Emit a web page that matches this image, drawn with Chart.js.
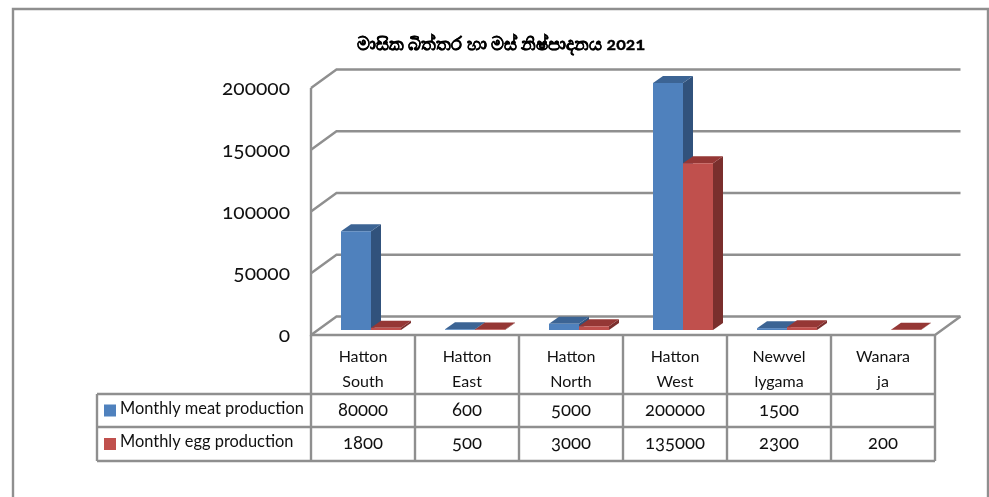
<!DOCTYPE html>
<html>
<head>
<meta charset="utf-8">
<title>Monthly production</title>
<script src="https://cdn.jsdelivr.net/npm/chart.js@4/dist/chart.umd.min.js"></script>
<style>
  html, body { margin: 0; padding: 0; background: #fff; overflow: hidden; }
  #wrap { position: relative; width: 989px; height: 497px; }
  #labels div {
    position: absolute;
    white-space: nowrap;
    font-family: Lato, sans-serif;
    font-size: 18.5px;
    color: #111;
    font-feature-settings: "onum" 1;
    font-variant-numeric: oldstyle-nums;
  }
  #labels .title { font-size: 17.8px; font-weight: 700; color: #000; -webkit-text-stroke: 0.4px #000; transform: translate(-50%, -50%); }
  #labels .cell { transform: translate(-50%, -50%); }
  #labels .tick { transform: translate(-100%, -50%); font-size: 21px; }
</style>
</head>
<body>
<div id="wrap">
  <canvas id="chart" width="989" height="497"></canvas>
  <div id="labels"></div>
</div>
<script>
const chartTitle = 'මාසික බිත්තර හා මස් නිෂ්පාදනය 2021';
const categories = [['Hatton', 'South'], ['Hatton', 'East'], ['Hatton', 'North'], ['Hatton', 'West'], ['Newvel', 'lygama'], ['Wanara', 'ja']];
const meatValues = [80000, 600, 5000, 200000, 1500, null];
const eggValues = [1800, 500, 3000, 135000, 2300, 200];
const seriesNames = ['Monthly meat production', 'Monthly egg production'];
const frontColors = ['#4f81bd', '#c0504d'];
const topColors = ['#3c6494', '#953735'];
const sideColors = ['#31527c', '#7a2f2d'];

const lineColor = '#8f8f8f';
const depthX = 10, depthY = 7;      // bar depth
const shiftX = 8, shiftY = 5;       // bars sit a little behind the front of the floor
const wallX = 25.5, wallY = 18.5;   // depth of the walls

function segs(ctx, pts) {
    ctx.beginPath();
    pts.forEach((p, i) => i ? ctx.lineTo(p[0], p[1]) : ctx.moveTo(p[0], p[1]));
    ctx.stroke();
}

function poly(ctx, pts, color) {
    ctx.fillStyle = color;
    ctx.beginPath();
    pts.forEach((p, i) => i ? ctx.lineTo(p[0], p[1]) : ctx.moveTo(p[0], p[1]));
    ctx.closePath();
    ctx.fill();
}

// back wall, side wall, floor and the sides/tops of the bars
const walls3d = {
    id: 'walls3d',
    beforeDatasetsDraw(chart) {
        const ctx = chart.ctx, x = chart.scales.x, y = chart.scales.y;
        const left = x.left - shiftX, right = x.right - shiftX;
        ctx.save();
        ctx.strokeStyle = lineColor;
        ctx.lineWidth = 2.4;
        y.ticks.forEach(t => {
            const f = y.getPixelForValue(t.value) + shiftY;
            segs(ctx, [[left, f], [left + wallX, f - wallY], [right + wallX, f - wallY]]);
        });
        const top = y.getPixelForValue(200000) + shiftY, bottom = y.getPixelForValue(0) + shiftY;
        segs(ctx, [[left, top], [left, bottom], [right, bottom], [right + wallX, bottom - wallY]]);

        chart.data.datasets.forEach((ds, d) => {
            chart.getDatasetMeta(d).data.forEach((bar, i) => {
                if (ds.data[i] === null) return;
                const l = bar.x - bar.width / 2, r = bar.x + bar.width / 2;
                poly(ctx, [[r, bar.y], [r + depthX, bar.y - depthY], [r + depthX, bar.base - depthY], [r, bar.base]], sideColors[d]);
                poly(ctx, [[l, bar.y], [l + depthX, bar.y - depthY], [r + depthX, bar.y - depthY], [r, bar.y]], topColors[d]);
            });
        });
        ctx.restore();
    }
};

// outer frame, data table grid and its legend keys
const dataTable = {
    id: 'dataTable',
    afterDraw(chart) {
        const ctx = chart.ctx, x = chart.scales.x, y = chart.scales.y;
        const colW = x.width / categories.length;
        const left = x.left - shiftX, right = x.right - shiftX;
        const floorY = y.getPixelForValue(0) + shiftY;
        const rows = [394, 427, 461];
        ctx.save();
        ctx.strokeStyle = lineColor;
        ctx.lineWidth = 2.4;
        categories.forEach((c, i) => {
            const cx = left + colW * i;
            segs(ctx, [[cx, floorY], [cx, rows[2]]]);
        });
        segs(ctx, [[right, floorY], [right, rows[2]]]);
        segs(ctx, [[97, rows[0]], [97, rows[2]]]);
        rows.forEach(r => segs(ctx, [[97, r], [right, r]]));
        segs(ctx, [[13, 497], [13, 9], [988, 9], [988, 497]]);

        seriesNames.forEach((name, s) => {
            const cy = (rows[s] + rows[s + 1]) / 2;
            ctx.fillStyle = frontColors[s];
            ctx.fillRect(104, cy - 6, 12, 12);
            ctx.fillStyle = '#111';
            ctx.font = '16.4px Lato, sans-serif';
            ctx.textAlign = 'left';
            ctx.textBaseline = 'middle';
            ctx.fillText(name, 120, cy - 2);
        });
        ctx.restore();
    }
};

// canvas text cannot do old-style figures, so the texts with digits sit in html above the chart
const digitLabels = {
    id: 'digitLabels',
    afterRender(chart) {
        const box = document.getElementById('labels');
        const x = chart.scales.x, y = chart.scales.y;
        let html = `<div class="title" style="left:501px;top:43px">${chartTitle}</div>`;
        y.ticks.forEach(t => {
            html += `<div class="tick" style="left:290px;top:${y.getPixelForValue(t.value) + shiftY - 2}px">${t.value}</div>`;
        });
        [meatValues, eggValues].forEach((vals, s) => {
            const cy = 408.5 + s * 33.5;
            vals.forEach((v, i) => {
                if (v === null) return;
                html += `<div class="cell" style="left:${x.getPixelForTick(i) - shiftX}px;top:${cy}px">${v}</div>`;
            });
        });
        box.innerHTML = html;
    }
};

new Chart(document.getElementById('chart'), {
    type: 'bar',
    data: {
        labels: categories,
        datasets: [
            { label: seriesNames[0], data: meatValues, backgroundColor: frontColors[0] },
            { label: seriesNames[1], data: eggValues, backgroundColor: frontColors[1] }
        ]
    },
    options: {
        responsive: false,
        animation: false,
        layout: { padding: { top: 83, right: 46, left: 0, bottom: 0 } },
        datasets: { bar: { categoryPercentage: 60 / 104, barPercentage: 1 } },
        scales: {
            x: {
                afterFit(scale) { scale.height = 167; },
                grid: { display: false },
                border: { display: false },
                ticks: {
                    color: '#111',
                    font: { family: 'Lato, sans-serif', size: 16, lineHeight: 1.56 },
                    padding: 6,
                    labelOffset: -shiftX,
                    maxRotation: 0,
                    autoSkip: false
                }
            },
            y: {
                min: 0,
                max: 200000,
                afterFit(scale) { scale.width = 319; },
                grid: { display: false },
                border: { display: false },
                ticks: { stepSize: 50000, display: false }
            }
        },
        plugins: {
            legend: { display: false },
            title: { display: false },
            tooltip: { enabled: false }
        }
    },
    plugins: [walls3d, dataTable, digitLabels]
});
</script>
</body>
</html>
